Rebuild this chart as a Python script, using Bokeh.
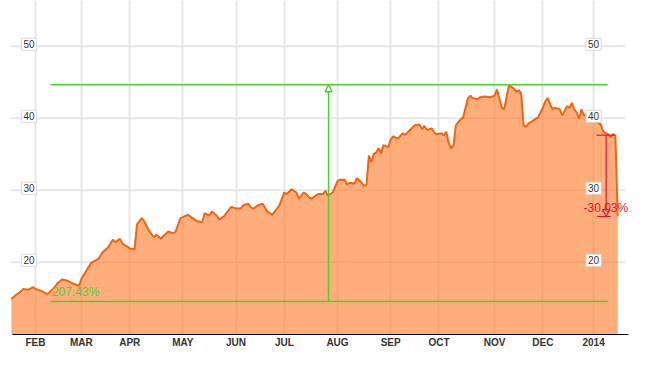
from bokeh.plotting import figure
from bokeh.models import Range1d, FixedTicker, Label, Arrow, NormalHead
from bokeh.embed import file_html
from bokeh.resources import INLINE

# trading-day index (0 = 17 Jan 2013) and closing price
day = [0, 2, 3, 5, 7, 9, 10, 12, 13, 15, 16, 17, 19, 21, 23, 25, 28, 29, 31, 33,
       36, 38, 40, 42, 43, 45, 46, 49, 51, 52, 54, 55, 57, 59, 60, 62, 63, 65, 67, 68,
       70, 73, 75, 77, 79, 80, 82, 83, 85, 86, 88, 91, 93, 95, 96, 98, 99, 100, 102, 104,
       106, 108, 110, 111, 113, 114, 116, 118, 119, 121, 122, 124, 126, 127, 129, 130, 131, 133, 135, 136,
       138, 139, 140, 142, 143, 145, 146, 147, 148, 149, 150, 151, 152, 153, 154, 156, 157, 158, 160, 162,
       163, 165, 167, 169, 170, 171, 172, 174, 175, 176, 178, 179, 180, 181, 182, 183, 184, 185, 187, 188,
       189, 190, 191, 193, 194, 196, 198, 200, 201, 203, 204, 205, 206, 207, 208, 209, 210, 211, 212, 213,
       214, 216, 217, 218, 220, 221, 222, 223, 224, 225, 227, 228, 229, 230, 231, 232, 233, 234, 235, 236,
       237, 238, 240, 242, 244, 245, 247, 248, 249, 250, 251]
price = [14.89, 15.47, 15.69, 16.27, 16.19, 16.53, 16.27, 16.09, 15.92, 15.56, 15.92, 16.20, 17.03, 17.60, 17.47, 17.12, 16.72, 17.69, 18.80, 19.90,
         20.45, 21.47, 22.05, 23.12, 22.80, 23.25, 22.59, 21.92, 21.79, 25.25, 26.13, 25.69, 24.36, 23.47, 23.83, 23.25, 23.69, 24.27, 24.00, 24.27,
         26.13, 26.59, 26.13, 25.69, 25.60, 26.80, 26.49, 27.03, 26.49, 25.92, 26.36, 27.69, 27.47, 27.47, 27.92, 28.13, 27.69, 27.39, 27.92, 28.13,
         27.03, 26.59, 27.47, 27.92, 29.69, 29.47, 30.13, 29.69, 28.80, 29.69, 29.47, 28.80, 29.25, 29.47, 29.47, 29.92, 29.25, 29.69, 31.25, 31.47,
         31.47, 30.80, 31.03, 30.93, 31.69, 31.03, 30.59, 30.80, 34.80, 33.92, 35.03, 35.25, 35.83, 35.12, 36.27, 36.00, 37.03, 37.47, 37.16, 37.92,
         37.69, 38.36, 39.03, 39.12, 38.49, 38.93, 38.36, 38.59, 38.05, 37.79, 37.92, 37.60, 38.13, 36.59, 35.83, 36.27, 39.03, 39.47, 40.13, 41.47,
         42.80, 43.12, 42.80, 42.67, 42.93, 43.03, 42.93, 43.12, 44.00, 41.47, 41.25, 43.03, 44.60, 44.36, 44.13, 43.69, 43.92, 43.47, 39.03, 38.80,
         39.25, 39.69, 39.92, 40.13, 41.47, 42.36, 42.80, 41.92, 41.25, 41.47, 41.25, 40.36, 41.03, 41.69, 41.47, 42.13, 41.25, 40.80, 39.92, 41.25,
         40.36, 40.59, 40.20, 39.60, 39.12, 38.13, 37.79, 37.33, 37.79, 37.66, 26.35]

month_ticks = [10, 29, 49, 71, 93, 113, 135, 157, 177, 200, 220, 241]
month_labels = ["FEB", "MAR", "APR", "MAY", "JUN", "JUL", "AUG", "SEP", "OCT", "NOV", "DEC", "2014"]
price_ticks = [20, 30, 40, 50]

gain_low, gain_high = 14.53, 44.66
gain_text = "207.43%"
drop_from, drop_to = 37.66, 26.35
drop_text = "-30.03%"

GREEN = "#44d62c"
RED = "#dc143c"
GRID = "#e6e6e6"
FONT = "Liberation Sans"

p = figure(width=630, height=350, output_backend="svg", toolbar_location=None,
           x_range=Range1d(-4.49, 256.27), y_range=Range1d(9.96, 56.36),
           y_axis_location=None, x_axis_location="below",
           min_border_left=0, min_border_right=0, min_border_top=0, min_border_bottom=14,
           outline_line_color=None, background_fill_color="white", border_fill_color="white")

p.ygrid.visible = False
p.xaxis.ticker = FixedTicker(ticks=month_ticks)
p.xaxis.major_label_overrides = {t: l for t, l in zip(month_ticks, month_labels)}
p.xaxis.axis_line_color = "black"
p.xaxis.axis_line_width = 1
p.xaxis.major_tick_line_color = None
p.xaxis.minor_tick_line_color = None
p.xaxis.major_tick_out = 0
p.xaxis.major_tick_in = 0
p.xaxis.major_label_standoff = 2
p.xaxis.major_label_text_font = FONT
p.xaxis.major_label_text_font_style = "bold"
p.xaxis.major_label_text_font_size = "10px"
p.xaxis.major_label_text_color = "#333333"
p.xaxis.bounds = (0.5, 255.4)
p.xgrid.grid_line_color = GRID
p.xgrid.grid_line_width = 2

# horizontal grid lines
p.segment(x0=-0.4, x1=254.2, y0=price_ticks, y1=price_ticks, line_color=GRID, line_width=2)

# price area and line
p.varea(x=day, y1=0, y2=price, fill_color="#FF7722", fill_alpha=0.6)
p.line(day, price, line_color="#EE6611", line_width=2)

# gain measurement (green)
p.segment(x0=16.2, x1=246.8, y0=[gain_low, gain_high], y1=[gain_low, gain_high],
          line_color=GREEN, line_width=1.5)
p.add_layout(Arrow(end=NormalHead(size=7, fill_alpha=0, line_color=GREEN, line_width=1.5),
                   x_start=131.3, y_start=gain_low, x_end=131.3, y_end=gain_high,
                   line_color=GREEN, line_width=1.5))
p.add_layout(Label(x=16.8, y=gain_low, y_offset=10, text=gain_text, text_color=GREEN,
                   text_font=FONT, text_font_size="12px", text_align="left", text_baseline="middle"))

# drop measurement (red)
p.segment(x0=[242.2, 242.5], x1=[249.8, 248.0], y0=[drop_from, drop_to], y1=[drop_from, drop_to],
          line_color=RED, line_width=1.2)
p.add_layout(Arrow(end=NormalHead(size=7, fill_alpha=0, line_color=RED, line_width=1.2),
                   x_start=246.2, y_start=drop_from, x_end=246.2, y_end=drop_to,
                   line_color=RED, line_width=1.2))
p.add_layout(Label(x=255.3, y=drop_to, y_offset=9, text=drop_text, text_color=RED,
                   text_font=FONT, text_font_size="12px", text_align="right", text_baseline="middle"))

# price tick labels inside the plot (left and right)
for t in price_ticks:
    for xpos in (7.3, 241):
        p.add_layout(Label(x=xpos, y=t, y_offset=2, text=str(t), text_font=FONT,
                           text_font_size="10px", text_color="#333333",
                           text_align="center", text_baseline="middle",
                           background_fill_color="white", border_line_color="#d8d8d8",
                           padding=2))

open("out.html", "w").write(file_html(p, INLINE))
